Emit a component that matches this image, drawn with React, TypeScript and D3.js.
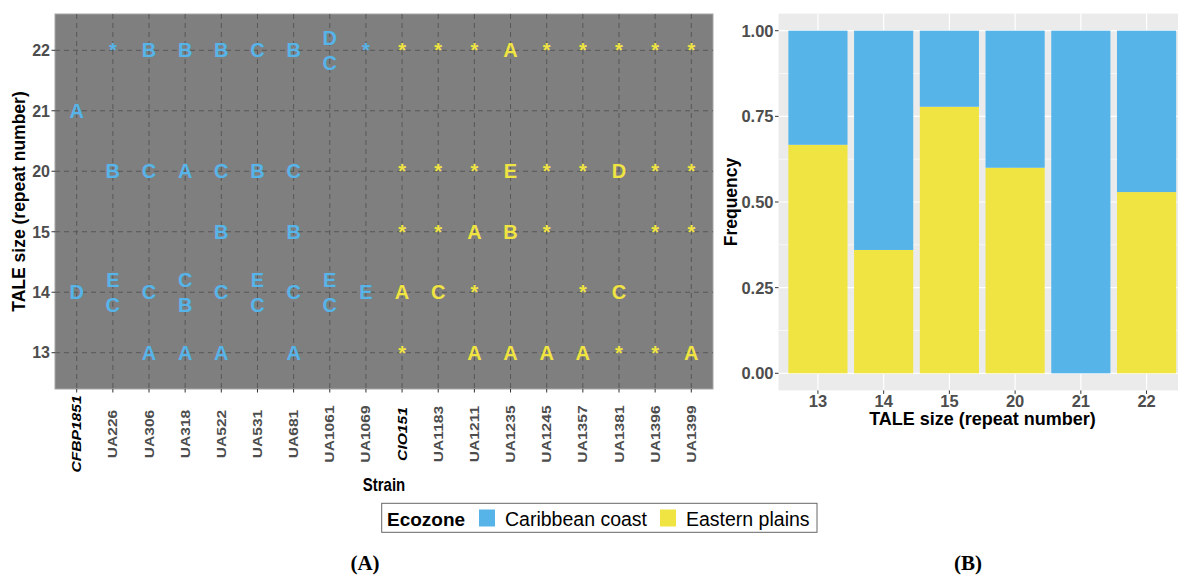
import React from "react";
import * as d3 from "d3";

// ---------- data ----------
const strains = ["CFBP1851", "UA226", "UA306", "UA318", "UA522", "UA531", "UA681", "UA1061", "UA1069", "CIO151", "UA1183", "UA1211", "UA1235", "UA1245", "UA1357", "UA1381", "UA1396", "UA1399"];
const italicStrains = ["CFBP1851", "CIO151"];
const strainZone = ["Caribbean coast", "Caribbean coast", "Caribbean coast", "Caribbean coast", "Caribbean coast", "Caribbean coast", "Caribbean coast", "Caribbean coast", "Caribbean coast", "Eastern plains", "Eastern plains", "Eastern plains", "Eastern plains", "Eastern plains", "Eastern plains", "Eastern plains", "Eastern plains", "Eastern plains"];
const zones = ["Caribbean coast", "Eastern plains"];
const zoneColors = ["#56B4E9", "#F0E442"];
const taleSizes = ["13", "14", "15", "20", "21", "22"];
// per TALE size: label per strain ("/" = two stacked variants, top/bottom)
const row13 = ["", "", "A", "A", "A", "", "A", "", "", "*", "", "A", "A", "A", "A", "*", "*", "A"];
const row14 = ["D", "E/C", "C", "C/B", "C", "E/C", "C", "E/C", "E", "A", "C", "*", "", "", "*", "C", "", ""];
const row15 = ["", "", "", "", "B", "", "B", "", "", "*", "*", "A", "B", "*", "", "", "*", "*"];
const row20 = ["", "B", "C", "A", "C", "B", "C", "", "", "*", "*", "*", "E", "*", "*", "D", "*", "*"];
const row21 = ["A", "", "", "", "", "", "", "", "", "", "", "", "", "", "", "", "", ""];
const row22 = ["", "*", "B", "B", "B", "C", "B", "D/C", "*", "*", "*", "*", "A", "*", "*", "*", "*", "*"];
const rows = [row13, row14, row15, row20, row21, row22];

const freqSizes = ["13", "14", "15", "20", "21", "22"];
const easternFreq = [0.667, 0.36, 0.778, 0.6, 0, 0.529];
const caribbeanFreq = [0.333, 0.64, 0.222, 0.4, 1, 0.471];
const freqTicks = [0, 0.25, 0.5, 0.75, 1];
const freqMinor = [0.125, 0.375, 0.625, 0.875];

const FONT = "'Liberation Sans', Arial, sans-serif";

export default function App() {
  const color = d3.scaleOrdinal<string, string>().domain(zones).range(zoneColors);

  // ----- panel A -----
  const L = { x0: 55, x1: 713, y0: 14, y1: 389 };
  const xA = d3.scalePoint<string>().domain(strains).range([L.x0, L.x1]).padding(0.6);
  const yA = d3.scalePoint<string>().domain(taleSizes).range([L.y1, L.y0]).padding(0.6);

  // ----- panel B -----
  const R = { x0: 778.5, x1: 1186, y0: 13.6, y1: 390.4 };
  const xB = d3.scalePoint<string>().domain(freqSizes).range([R.x0, R.x1]).padding(0.6);
  const bw = xB.step() * 0.9;
  const yB = d3.scaleLinear().domain([0, 1]).range([373.3, 30.7]);
  const table = freqSizes.map((s, i) => ({ size: s, "Eastern plains": easternFreq[i], "Caribbean coast": caribbeanFreq[i] }));
  const stack = d3.stack<any>().keys(["Eastern plains", "Caribbean coast"]);
  const series = stack(table);

  const cells: any[] = [];
  rows.forEach((row, i) => {
    row.forEach((lab, j) => {
      if (!lab) return;
      const parts = lab.split("/");
      const cx = xA(strains[j])!;
      const cy = yA(taleSizes[i])!;
      parts.forEach((p, k) => {
        const off = parts.length === 2 ? (k === 0 ? -12.5 : 12.5) : 0;
        cells.push({ key: `${i}-${j}-${k}`, x: cx, y: cy + off, t: p, c: color(strainZone[j]) });
      });
    });
  });

  return (
    <svg width={1178} height={575} style={{ position: "absolute", left: 0, top: 0, background: "#fff" }} fontFamily={FONT}>
      {/* Panel A background */}
      <rect x={L.x0} y={L.y0} width={L.x1 - L.x0} height={L.y1 - L.y0} fill="#7F7F7F" stroke="#A6A6A6" strokeWidth={1} />
      {taleSizes.map((s) => (
        <line key={"gy" + s} x1={L.x0} x2={L.x1} y1={yA(s)} y2={yA(s)} stroke="#575757" strokeWidth={1} strokeDasharray="5,4" />
      ))}
      {strains.map((s) => (
        <line key={"gx" + s} x1={xA(s)} x2={xA(s)} y1={L.y0} y2={L.y1} stroke="#575757" strokeWidth={1} strokeDasharray="5,4" />
      ))}
      {cells.map((c) => (
        <text key={c.key} x={c.x} y={c.y} dy="0.36em" textAnchor="middle" fontSize={20} fontWeight="bold" fill={c.c}>
          {c.t}
        </text>
      ))}
      {/* A y axis */}
      {taleSizes.map((s) => (
        <g key={"ya" + s}>
          <line x1={L.x0 - 3.5} x2={L.x0} y1={yA(s)} y2={yA(s)} stroke="#333" />
          <text x={L.x0 - 5} y={yA(s)} dy="0.36em" textAnchor="end" fontSize={16} fontWeight="bold" fill="#4D4D4D">{s}</text>
        </g>
      ))}
      <text transform={`translate(25,${(L.y0 + L.y1) / 2}) rotate(-90)`} textAnchor="middle" fontSize={17.5} fontWeight="bold" fill="#000">
        TALE size (repeat number)
      </text>
      {/* A x axis */}
      {strains.map((s) => {
        const it = italicStrains.includes(s);
        return (
          <g key={"xa" + s}>
            <line x1={xA(s)} x2={xA(s)} y1={L.y1} y2={L.y1 + 3.5} stroke="#333" />
            <text transform={`translate(${xA(s)! + 4.5},434) rotate(-90) scale(1.22,1)`} textAnchor="middle" fontSize={12.8} fontWeight="bold" fontStyle={it ? "italic" : "normal"} fill={it ? "#000" : "#4D4D4D"}>
              {s}
            </text>
          </g>
        );
      })}
      <text transform={`translate(${(L.x0 + L.x1) / 2},491) scale(1,1.2)`} textAnchor="middle" fontSize={15} fontWeight="bold" fill="#000">Strain</text>

      {/* Panel B */}
      <rect x={R.x0} y={R.y0} width={R.x1 - R.x0} height={R.y1 - R.y0} fill="#EBEBEB" />
      {freqMinor.map((t) => (
        <line key={"mn" + t} x1={R.x0} x2={R.x1} y1={yB(t)} y2={yB(t)} stroke="#fff" strokeWidth={0.6} />
      ))}
      {freqTicks.map((t) => (
        <line key={"mj" + t} x1={R.x0} x2={R.x1} y1={yB(t)} y2={yB(t)} stroke="#fff" strokeWidth={1.2} />
      ))}
      {freqSizes.map((s) => (
        <line key={"vx" + s} x1={xB(s)} x2={xB(s)} y1={R.y0} y2={R.y1} stroke="#fff" strokeWidth={1.2} />
      ))}
      {series.map((ser) => (
        <g key={ser.key} fill={color(ser.key)}>
          {ser.map((d, i) => (
            d[1] - d[0] > 0 ? (
              <rect key={i} x={xB(freqSizes[i])! - bw / 2} y={yB(d[1])} width={bw} height={yB(d[0]) - yB(d[1])} />
            ) : null
          ))}
        </g>
      ))}
      {freqTicks.map((t) => (
        <g key={"yb" + t}>
          <line x1={R.x0 - 3.5} x2={R.x0} y1={yB(t)} y2={yB(t)} stroke="#333" />
          <text x={R.x0 - 5} y={yB(t)} dy="0.36em" textAnchor="end" fontSize={16.5} fontWeight="bold" fill="#4D4D4D">{d3.format(".2f")(t)}</text>
        </g>
      ))}
      <text transform={`translate(737,${(R.y0 + R.y1) / 2}) rotate(-90)`} textAnchor="middle" fontSize={17.5} fontWeight="bold" fill="#000">Frequency</text>
      {freqSizes.map((s) => (
        <g key={"xb" + s}>
          <line x1={xB(s)} x2={xB(s)} y1={R.y1} y2={R.y1 + 3.5} stroke="#333" />
          <text x={xB(s)} y={407} textAnchor="middle" fontSize={16.5} fontWeight="bold" fill="#4D4D4D">{s}</text>
        </g>
      ))}
      <text x={982.5} y={425} textAnchor="middle" fontSize={18} fontWeight="bold" fill="#000">TALE size (repeat number)</text>

      {/* Legend */}
      <rect x={381.7} y={503.3} width={435.3} height={29} fill="#fff" stroke="#666" strokeWidth={1} />
      <text x={387} y={525.5} fontSize={19} fontWeight="bold" fill="#000">Ecozone</text>
      {zones.map((z, i) => {
        const kx = i === 0 ? 479 : 660;
        return (
          <g key={z}>
            <rect x={kx} y={509.5} width={16} height={17} fill={color(z)} />
            <text x={kx + 26} y={525.5} fontSize={19.5} fill="#000">{z}</text>
          </g>
        );
      })}

      {/* Captions */}
      <text x={365} y={570} textAnchor="middle" fontSize={21} fontWeight="bold" fontFamily="'Liberation Serif', 'Times New Roman', serif" fill="#000">
        (A)
      </text>
      <text x={968} y={570} textAnchor="middle" fontSize={21} fontWeight="bold" fontFamily="'Liberation Serif', 'Times New Roman', serif" fill="#000">
        (B)
      </text>
    </svg>
  );
}
